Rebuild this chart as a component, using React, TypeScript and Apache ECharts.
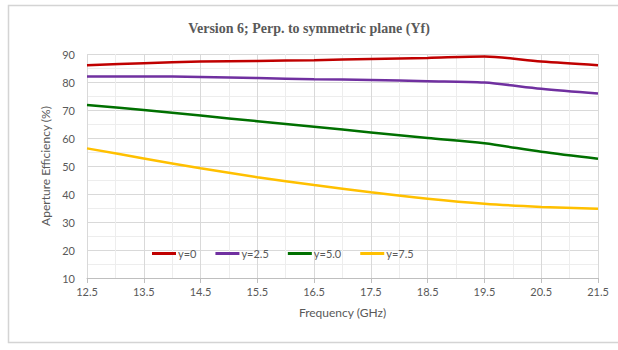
import React, { useEffect, useRef } from "react";
import * as echarts from "echarts";

// Frequency sweep (GHz) and aperture efficiency (%) for each offset
const frequencies = [12.5, 13.5, 14.5, 15.5, 16.5, 17.5, 18.5, 19.5, 20.5, 21.5];
const effY0 = [86.0, 86.7, 87.3, 87.5, 87.8, 88.2, 88.6, 89.1, 87.3, 86.0];
const effY25 = [82.0, 82.0, 81.8, 81.4, 81.0, 80.7, 80.3, 79.8, 77.6, 75.9];
const effY50 = [71.8, 70.0, 68.0, 66.0, 64.0, 62.0, 60.0, 58.1, 55.1, 52.6];
const effY75 = [56.3, 52.7, 49.2, 46.0, 43.2, 40.6, 38.3, 36.5, 35.4, 34.7];

const seriesNames = ["y=0", "y=2.5", "y=5.0", "y=7.5"];
const seriesColors = ["#C00000", "#7030A0", "#007000", "#FFC000"];
const yTicks = { min: 10, max: 90, step: 10 };

// The x axis runs from 12.5 GHz; values are shifted so ticks start at zero
const X_START = frequencies[0];

export default function App() {
  const ref = useRef<HTMLDivElement>(null);

  useEffect(() => {
    if (!ref.current) return;
    const chart = echarts.init(ref.current, undefined, { renderer: "svg" });
    const all = [effY0, effY25, effY50, effY75];
    const font = "Lato, 'Open Sans', sans-serif";

    chart.setOption({
      animation: false,
      backgroundColor: "#ffffff",
      title: {
        text: "Version 6; Perp. to symmetric plane (Yf)",
        left: "center",
        top: 16,
        textStyle: {
          fontFamily: "'Liberation Serif', 'DejaVu Serif', serif",
          fontSize: 14,
          fontWeight: "bold",
          color: "#595959",
        },
      },
      graphic: [
        {
          type: "rect",
          shape: { x: 8.5, y: 5.5, width: 620, height: 337 },
          style: { fill: "none", stroke: "#d4d4d4", lineWidth: 1.5 },
          silent: true,
          z: -1,
        },
      ],
      legend: {
        left: 147,
        top: 243,
        itemWidth: 24,
        itemHeight: 3,
        itemGap: 19,
        icon: "rect",
        textStyle: { color: "#595959", fontSize: 11, fontFamily: font, padding: [0, 0, 0, -3] },
        data: seriesNames,
      },
      grid: { left: 87, right: 20, top: 54, bottom: 72 },
      xAxis: {
        type: "value",
        min: 0,
        max: frequencies[frequencies.length - 1] - X_START,
        interval: 1,
        name: "Frequency (GHz)",
        nameLocation: "middle",
        nameGap: 28,
        nameTextStyle: { color: "#595959", fontSize: 12, fontFamily: font },
        axisLine: { show: true, lineStyle: { color: "#bfbfbf" } },
        axisTick: { show: true, length: 5, lineStyle: { color: "#bfbfbf" } },
        axisLabel: {
          color: "#595959",
          fontSize: 11,
          fontFamily: font,
          margin: 8,
          formatter: (v: number) => (v + X_START).toFixed(1),
        },
        splitLine: { show: true, lineStyle: { color: "#d9d9d9" } },
        minorTick: { show: false, splitNumber: 2 },
        minorSplitLine: { show: true, lineStyle: { color: "#ededed" } },
      },
      yAxis: {
        type: "value",
        min: yTicks.min,
        max: yTicks.max,
        interval: yTicks.step,
        name: "Aperture Efficiency (%)",
        nameLocation: "middle",
        nameGap: 31,
        nameTextStyle: { color: "#595959", fontSize: 12, fontFamily: font },
        axisLine: { show: false },
        axisTick: { show: false },
        axisLabel: { color: "#595959", fontSize: 11, fontFamily: font, margin: 12 },
        splitLine: { show: true, lineStyle: { color: "#d9d9d9" } },
        minorTick: { show: false, splitNumber: 2 },
        minorSplitLine: { show: true, lineStyle: { color: "#ededed" } },
      },
      series: all.map((vals, i) => ({
        name: seriesNames[i],
        type: "line",
        data: vals.map((v, j) => [frequencies[j] - X_START, v]),
        smooth: 0.3,
        showSymbol: false,
        symbol: "none",
        lineStyle: { color: seriesColors[i], width: 2.5 },
        itemStyle: { color: seriesColors[i] },
      })),
    });

    return () => chart.dispose();
  }, []);

  return (
    <div
      ref={ref}
      style={{ position: "absolute", left: 0, top: 0, width: 618, height: 350, overflow: "hidden" }}
    />
  );
}
